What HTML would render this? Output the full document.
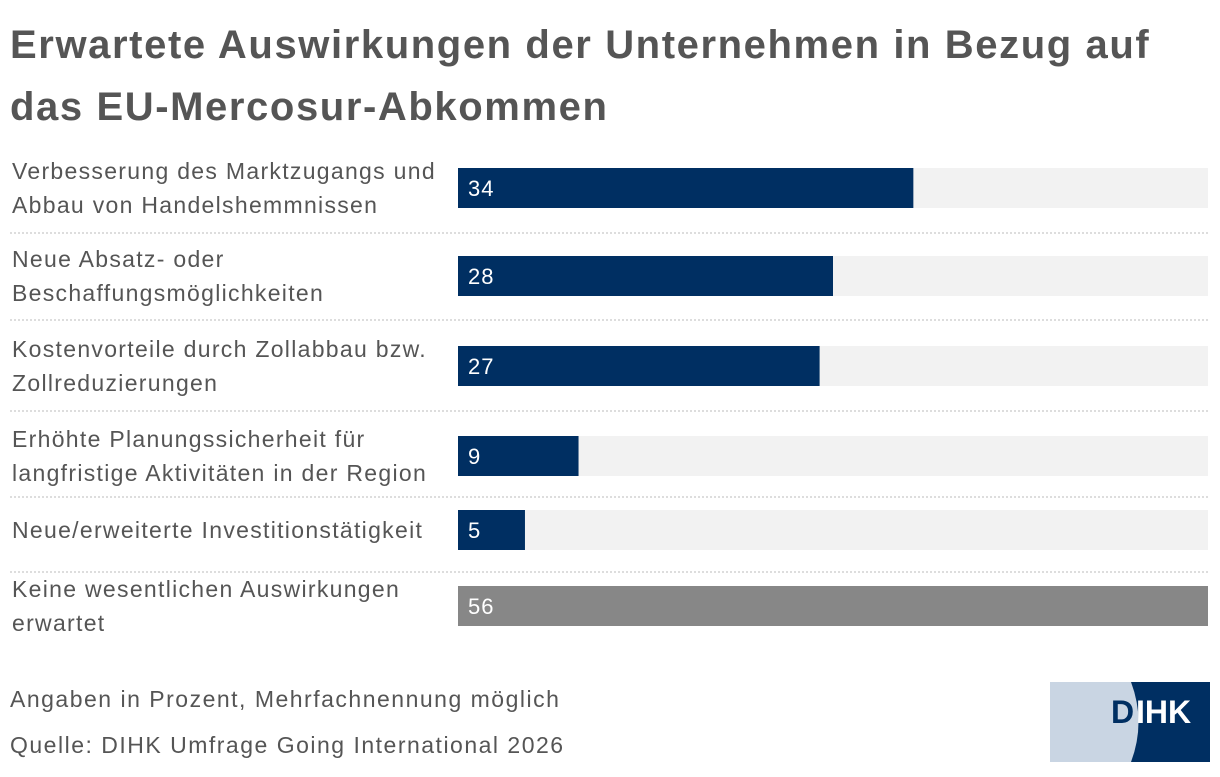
<!DOCTYPE html>
<html><head><meta charset="utf-8"><style>
body{margin:0;width:1220px;height:772px;background:#fff;overflow:hidden;font-family:"Liberation Sans",sans-serif;}
</style></head><body>
<svg id="c" width="1220" height="772" xmlns="http://www.w3.org/2000/svg">
<text x="10" y="58" font-size="40" font-weight="bold" fill="#555" letter-spacing="1.6">Erwartete Auswirkungen der Unternehmen in Bezug auf</text>
<text x="10" y="120" font-size="40" font-weight="bold" fill="#555" letter-spacing="1.6">das EU-Mercosur-Abkommen</text>
<g id="rows"></g>
<text x="10" y="707" font-size="23" fill="#555" letter-spacing="1.5">Angaben in Prozent, Mehrfachnennung möglich</text>
<text x="10" y="753" font-size="23" fill="#555" letter-spacing="1.5">Quelle: DIHK Umfrage Going International 2026</text>
<g>
<rect x="1050" y="682" width="160" height="80" fill="#002f62"/>
<path d="M1050 682 H1131 Q1146 722 1131 762 H1050 Z" fill="#c9d5e3"/>
<text x="1111" y="723" font-size="32" font-weight="bold" fill="#002f62">D</text>
<text x="1136" y="723" font-size="32" font-weight="bold" fill="#fff">IHK</text>
</g>
</svg>
<script>
const categories=[["Verbesserung des Marktzugangs und","Abbau von Handelshemmnissen"],["Neue Absatz- oder","Beschaffungsmöglichkeiten"],["Kostenvorteile durch Zollabbau bzw.","Zollreduzierungen"],["Erhöhte Planungssicherheit für","langfristige Aktivitäten in der Region"],["Neue/erweiterte Investitionstätigkeit"],["Keine wesentlichen Auswirkungen","erwartet"]];
const values=[34,28,27,9,5,56];
const colors=["#002f62","#002f62","#002f62","#002f62","#002f62","#878787"];
const NS="http://www.w3.org/2000/svg";
const g=document.getElementById('rows');
const x0=458,x1=1208,maxV=56;
function xs(v){return x0+(x1-x0)*v/maxV;}
const barY=[168,256,346,436,510,586];
const sepY=[233,320,411,497,572];
function mk(t,a){const e=document.createElementNS(NS,t);for(const k in a)e.setAttribute(k,a[k]);g.appendChild(e);return e;}
values.forEach((v,i)=>{
  const y=barY[i];
  const bg=mk('rect',{x:x0,y:y,width:x1-x0,height:40,fill:'#f2f2f2'});
  
  
  const b=mk('rect',{x:x0,y:y,width:xs(v)-x0,height:40,fill:colors[i]});
  
  
  const t=mk('text',{x:x0+10,y:y+28,'font-size':22,fill:'#fff','letter-spacing':1});
  t.textContent=v;
  
  
  const lines=categories[i];
  const cy=y+20;
  lines.forEach((l,j)=>{
    const ly=lines.length===1?cy+8:cy-9+j*34;
    const lt=mk('text',{x:12,y:ly,'font-size':23,fill:'#555','letter-spacing':1.3});
    lt.textContent=l;
    
    
  });
});
sepY.forEach(y=>{
  const l=mk('line',{x1:10,x2:1208,y1:y,y2:y,stroke:'#bbb','stroke-width':1,'stroke-dasharray':'2,2'});
  
  
});
</script>
</body></html>
